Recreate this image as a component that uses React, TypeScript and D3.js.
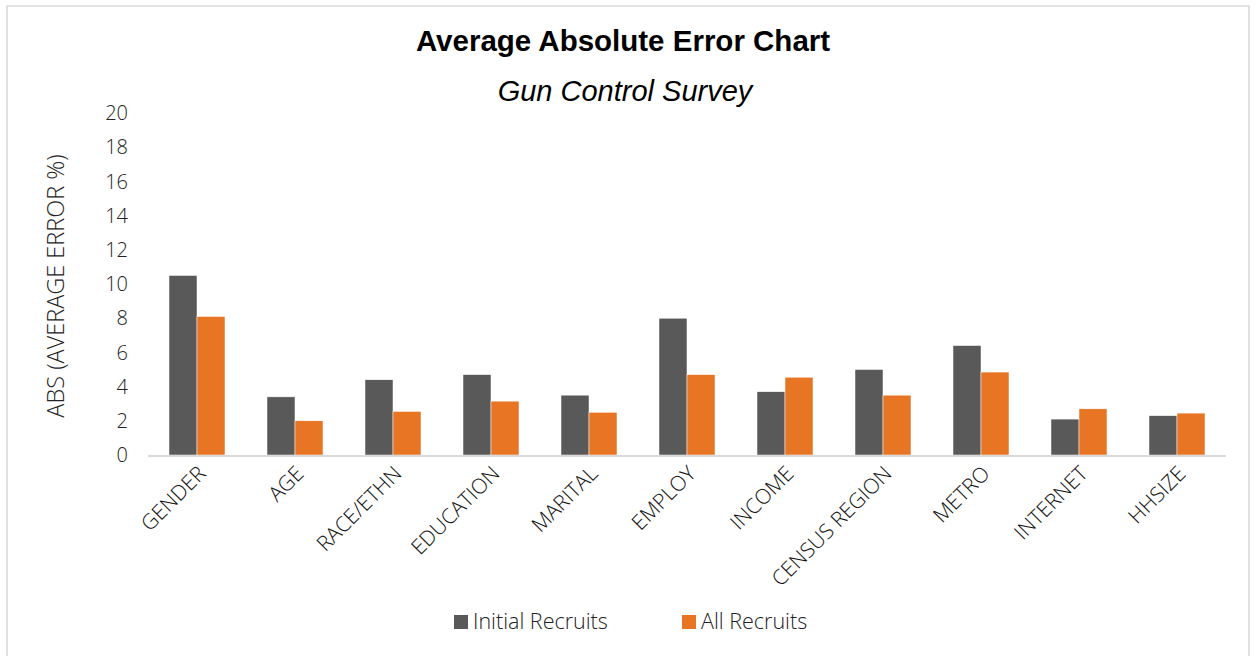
import React from "react";
import * as d3 from "d3";

const categories = ["GENDER", "AGE", "RACE/ETHN", "EDUCATION", "MARITAL", "EMPLOY", "INCOME", "CENSUS REGION", "METRO", "INTERNET", "HHSIZE"];
const initialRecruits = [10.5, 3.4, 4.4, 4.7, 3.5, 8.0, 3.7, 5.0, 6.4, 2.1, 2.3];
const allRecruits = [8.1, 2.0, 2.55, 3.15, 2.5, 4.7, 4.55, 3.5, 4.85, 2.7, 2.45];
const yTicks = [0, 2, 4, 6, 8, 10, 12, 14, 16, 18, 20];
const seriesNames = ["Initial Recruits", "All Recruits"];
const seriesColors = ["#595959", "#E87524"];

const W = 1256;
const H = 656;
const FONT = "'Open Sans', 'Noto Sans', sans-serif";

export default function App() {
  const margin = { left: 148, right: 30, top: 113, bottom: 201 };
  const x = d3
    .scaleBand()
    .domain(categories)
    .range([margin.left, W - margin.right])
    .paddingInner(0)
    .paddingOuter(0);
  const inner = d3
    .scaleBand()
    .domain(seriesNames)
    .range([0, x.bandwidth()])
    .paddingOuter(0.75)
    .paddingInner(0);
  const y = d3.scaleLinear().domain([0, 20]).range([H - margin.bottom, margin.top]);
  const series = [initialRecruits, allRecruits];

  return (
    <div style={{ position: "fixed", left: 0, top: 0 }}>
      <svg width={W} height={H} style={{ display: "block", background: "#fff" }}>
        <rect x={7} y={6} width={W - 14} height={H} fill="#fff" stroke="#d9d9d9" strokeWidth={1.5} />
        <text x={623} y={51} textAnchor="middle" fontFamily="Arial, 'Liberation Sans', sans-serif" fontWeight="bold" fontSize={29.5} fill="#000">
          Average Absolute Error Chart
        </text>
        <text x={625} y={101} textAnchor="middle" fontFamily="Arial, 'Liberation Sans', sans-serif" fontStyle="italic" fontSize={29} fill="#000">
          Gun Control Survey
        </text>

        {yTicks.map((t) => (
          <text key={t} x={128} y={y(t)} dy="0.36em" textAnchor="end" fontFamily={FONT} fontWeight={300} fontSize={20} fill="#222">
            {t}
          </text>
        ))}

        <text
          transform={`translate(64,${y(10) + 2}) rotate(-90)`}
          textAnchor="middle"
          fontFamily={FONT}
          fontWeight={300}
          fontSize={23.5}
          fill="#222"
        >
          ABS (AVERAGE ERROR %)
        </text>

        {categories.map((c, i) => (
          <g key={c}>
            {series.map((s, j) => (
              <rect
                key={j}
                x={(x(c) ?? 0) + (inner(seriesNames[j]) ?? 0)}
                y={y(s[i])}
                width={inner.bandwidth()}
                height={y(0) - y(s[i])}
                fill={seriesColors[j]}
                stroke="#fff"
                strokeWidth={0.5}
              />
            ))}
          </g>
        ))}

        <line x1={margin.left} x2={W - margin.right} y1={y(0) + 1} y2={y(0) + 1} stroke="#d9d9d9" strokeWidth={2} />

        {categories.map((c) => (
          <text
            key={c}
            transform={`translate(${(x(c) ?? 0) + x.bandwidth() / 2 + 10},${y(0) + 20}) rotate(-45)`}
            textAnchor="end"
            fontFamily={FONT}
            fontWeight={300}
            fontSize={21}
            fill="#111"
          >
            {c}
          </text>
        ))}

        {seriesNames.map((n, j) => {
          const lx = j === 0 ? 454 : 682;
          return (
            <g key={n}>
              <rect x={lx} y={615} width={14} height={14} fill={seriesColors[j]} />
              <text x={lx + 19} y={629} fontFamily={FONT} fontWeight={300} fontSize={21.5} fill="#222">
                {n}
              </text>
            </g>
          );
        })}
      </svg>
    </div>
  );
}
